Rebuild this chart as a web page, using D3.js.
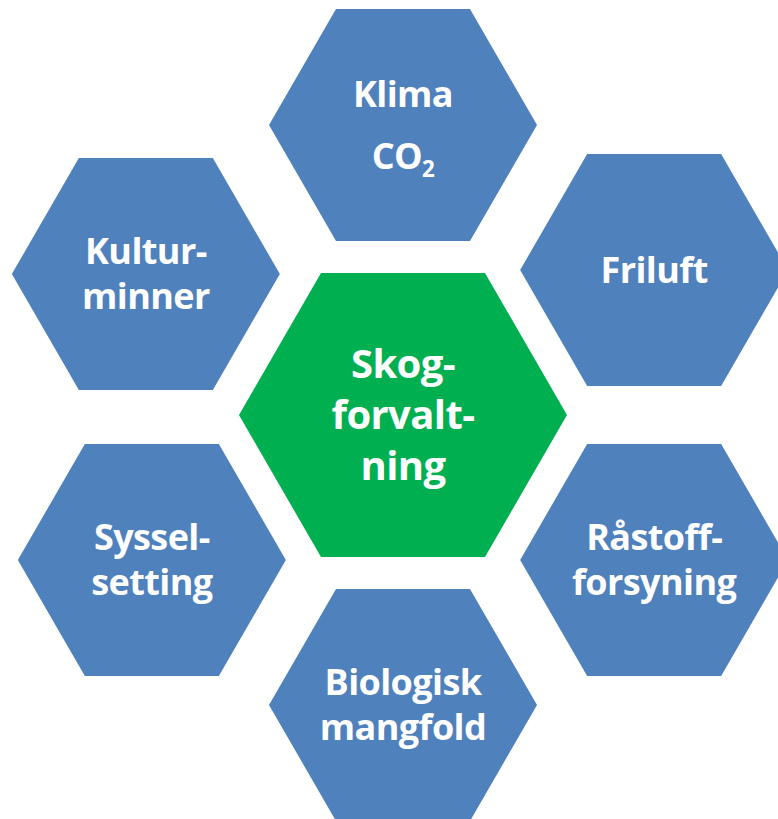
<!DOCTYPE html>
<html>
<head>
<meta charset="utf-8">
<script src="https://cdn.jsdelivr.net/npm/d3@7"></script>
<style>
  html, body { margin: 0; padding: 0; background: #ffffff; overflow: hidden; }
  svg { display: block; }
  text { font-family: "Open Sans", "Noto Sans", sans-serif; font-weight: 700; fill: #ffffff; }
</style>
</head>
<body>
<svg id="chart" width="778" height="819"></svg>
<script>
// Centre topic
const centerLabel = ["Skog-", "forvalt-", "ning"];
// Surrounding topics, clockwise from the top
const outerLabels = [
  ["Klima", "CO|2"],
  ["Friluft"],
  ["Råstoff-", "forsyning"],
  ["Biologisk", "mangfold"],
  ["Syssel-", "setting"],
  ["Kultur-", "minner"]
];
const outerOrder = [0, 1, 2, 3, 4, 5];

const W = 778, H = 819;
const svg = d3.select("#chart");

const cx = 403, cy = 415;
const ringR = 290;          // distance from centre hex to outer hex centres
const outerSize = 134;      // circumradius of outer hexagons
const innerSize = 164;      // circumradius of central hexagon

// small layout nudges seen in the original drawing (layout only)
const nudge = { 5: [-6, 4] };

// angle scale: index -> angle (deg), starting at top, clockwise by 60°
const angle = d3.scaleLinear().domain([0, 6]).range([-90, 270]);

function hexPath(x, y, r) {
  const pts = d3.range(6).map(i => {
    const a = (Math.PI / 180) * (60 * i);
    return [x + r * Math.cos(a), y + r * Math.sin(a)];
  });
  return d3.line()(pts) + "Z";
}

function drawLabel(g, lines, x, y, fontSize, lineGap) {
  const n = lines.length;
  const capH = fontSize * 0.72;
  const firstBase = y - ((n - 1) * lineGap) / 2 + capH / 2;
  const t = g.append("text")
    .attr("text-anchor", "middle")
    .attr("font-size", fontSize)
    .attr("letter-spacing", "-0.6");
  lines.forEach((ln, i) => {
    const parts = ln.split("|");
    t.append("tspan")
      .attr("x", x)
      .attr("y", firstBase + i * lineGap)
      .text(parts[0]);
    if (parts[1]) {
      t.append("tspan")
        .attr("dy", fontSize * 0.22)
        .attr("font-size", fontSize * 0.62)
        .text(parts[1]);
    }
  });
}

// outer hexagons
outerOrder.forEach(i => {
  const a = angle(i) * Math.PI / 180;
  const nd = nudge[i] || [0, 0];
  const x = cx + ringR * Math.cos(a) + nd[0];
  const y = cy + ringR * Math.sin(a) + nd[1];
  const g = svg.append("g");
  g.append("path")
    .attr("d", hexPath(x, y, outerSize))
    .attr("fill", "#4F81BD");
  const gap = outerLabels[i][0] === "Klima" ? 62 : 45;
  drawLabel(g, outerLabels[i], x, y, 36, gap);
});

// centre hexagon
const gc = svg.append("g");
gc.append("path")
  .attr("d", hexPath(cx, cy, innerSize))
  .attr("fill", "#00B050");
drawLabel(gc, centerLabel, cx, cy, 40, 51);
</script>
</body>
</html>
